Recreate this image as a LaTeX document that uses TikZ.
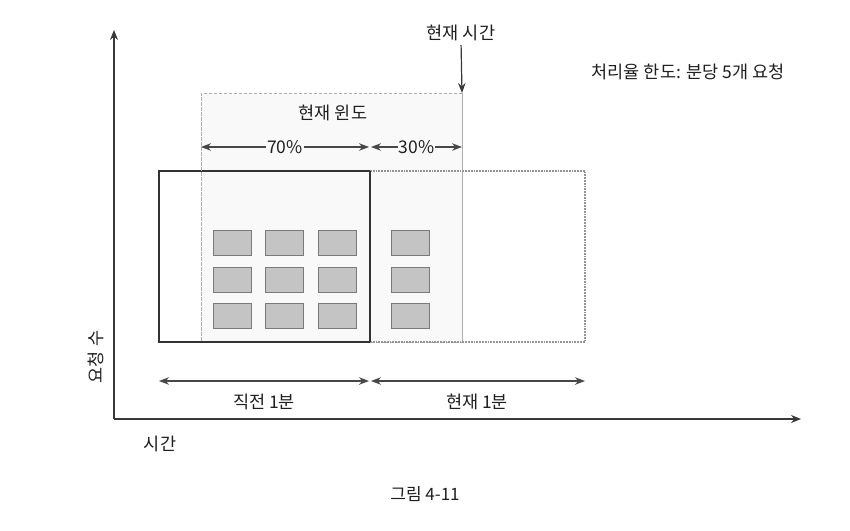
\documentclass[tikz,border=0pt]{standalone}
\usepackage{fontspec}
\setmainfont{Noto Sans CJK KR}
\usetikzlibrary{arrows.meta}
\begin{document}
\begin{tikzpicture}[x=1pt,y=-1pt,
  lbl/.style={font=\fontsize{17.5}{20}\selectfont, text=black!88, inner sep=0pt},
  arr/.style={-{Stealth[length=10pt,width=7.5pt]}, line width=1.2pt, draw=black!78},
  darr/.style={{Stealth[length=10pt,width=7.5pt]}-{Stealth[length=10pt,width=7.5pt]}, line width=1.2pt, draw=black!72},
  axis/.style={-{Stealth[length=10pt,width=8pt]}, line width=1.4pt, draw=black!78},
  box/.style={minimum width=#1, inner sep=0pt, outer sep=0pt, minimum height=171pt},
  req/.style={draw=black!52, fill=black!23, line width=0.9pt, minimum width=38pt, minimum height=25pt, inner sep=0pt, outer sep=0pt}]
\useasboundingbox[fill=white] (0,0) rectangle (850,530);

% current window (background)
\node[fill=black!2.5, draw=black!32, densely dashed, line width=1pt, minimum width=261pt, minimum height=249pt, inner sep=0pt, outer sep=0pt] (win) at (331.5,217.5) {};
\node[lbl, anchor=center] (wintitle) at (333,113) {현재 윈도};

% minute boxes
\node[box=211pt, draw=black!80, line width=2.4pt] (prev) at (264.5,256.5) {};
\node[box=215pt, draw=black!42, densely dotted, line width=1.8pt] (curr) at (477.5,256.5) {};
\draw[draw=black!80, line width=2.4pt] (prev.north east) -- (prev.south east);
\draw[draw=black!32, densely dashed, line width=1pt] (win.north east) -- (win.south east);
\draw[draw=black!32, densely dashed, line width=1pt] (win.north west) -- (win.south west);

% 70% / 30%
\coordinate (p70l) at (201,147);
\coordinate (p70r) at (369,147);
\coordinate (p30l) at (371,147);
\coordinate (p30r) at (462,147);
\draw[darr] (p70l) -- node[lbl, fill=black!2.5, inner xsep=1pt] (l70) {70\%} (p70r);
\draw[darr] (p30l) -- node[lbl, fill=black!2.5, inner xsep=1pt] (l30) {30\%} (p30r);

% current time
\node[lbl] (now) at (461,33) {현재 시간};
\draw[arr, shorten <=4pt] (now.south) -- (win.north east);

% rate limit
\node[lbl] (limit) at (688,72) {처리율 한도: 분당 5개 요청};

% requests
\foreach \c/\x in {1/232,2/284.5,3/337,4/410}{
  \foreach \r/\y in {1/243,2/279.5,3/316}{
    \node[req] (r\c\r) at (\x,\y) {};
  }
}

% minute spans
\coordinate (m1l) at (159,381);
\coordinate (m1r) at (369,381);
\coordinate (m2l) at (371,381);
\coordinate (m2r) at (585,381);
\draw[darr] (m1l) -- (m1r);
\draw[darr] (m2l) -- (m2r);
\node[lbl] (lprev) at (264,402) {직전 1분};
\node[lbl] (lcurr) at (477,402) {현재 1분};

% axes
\coordinate (O) at (114,419);
\coordinate (ytop) at (114,30);
\coordinate (xend) at (801,419);
\draw[axis] (O) -- (ytop);
\draw[axis] (O) -- (xend);
\node[lbl, rotate=90] (ylab) at (96,357) {요청 수};
\node[lbl] (xlab) at (160,444) {시간};

% caption
\node[lbl, font=\fontsize{17}{20}\selectfont] (cap) at (425,494) {그림 4-11};
\end{tikzpicture}
\end{document}
